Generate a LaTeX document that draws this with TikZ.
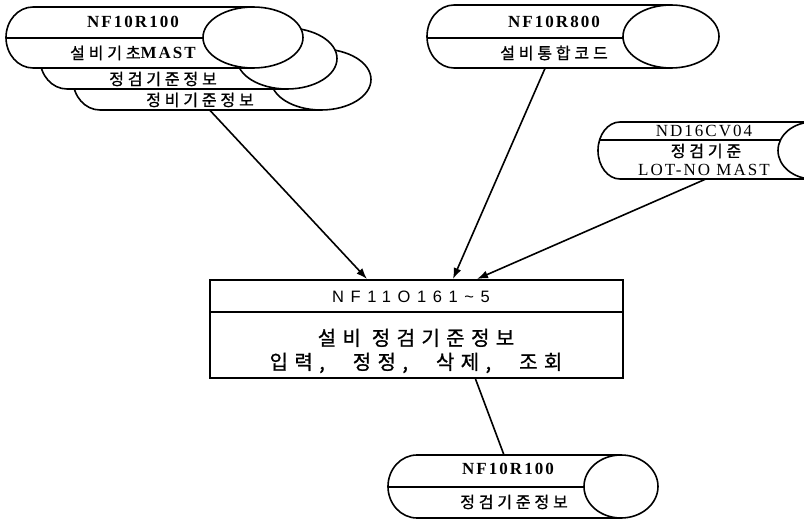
\documentclass[tikz,border=0pt]{standalone}
\usepackage{fontspec}
\setmainfont{Liberation Serif}
\newfontfamily\tagfont[LetterSpace=12]{Liberation Serif}
\newfontfamily\hanfont[LetterSpace=24,FakeBold=1]{Noto Sans CJK KR}
\newfontfamily\bighanfont[LetterSpace=32,FakeBold=1]{Noto Sans CJK KR}
\newfontfamily\boxfont[LetterSpace=40]{Liberation Sans}
\usetikzlibrary{calc,arrows.meta}

% lying drum: [cap] name, left, top, ellipse centre, ellipse x radius, height, divider
\newcommand{\datastore}[8][27]{%
  \fill[white] (#5,#4) -- (#3+#1,#4) arc[start angle=270,end angle=90,x radius=#1,y radius=#7/2] -- (#5,#4+#7) -- cycle;
  \begin{scope}
    \clip (#5,#4) -- (#3+#1,#4) arc[start angle=270,end angle=90,x radius=#1,y radius=#7/2] -- (#5,#4+#7) -- cycle;
    \draw[storeline] (#3,#4+#8) -- (#5,#4+#8);
  \end{scope}
  \draw[storeline] (#5,#4) -- (#3+#1,#4) arc[start angle=270,end angle=90,x radius=#1,y radius=#7/2] -- (#5,#4+#7);
  \draw[storeline, fill=white] (#5,#4+#7/2) ellipse[x radius=#6, y radius=#7/2];
  \node[inner sep=0, minimum width={(#5+#6-#3)*1pt}, minimum height={#7*1pt}, anchor=north west] (#2) at (#3,#4) {};
}

\begin{document}
\begin{tikzpicture}[
  x=1pt, y=-1pt,
  storeline/.style={line width=1.6pt, black},
  tag/.style={inner sep=0, font=\fontsize{17}{19}\selectfont\tagfont},
  boldtag/.style={inner sep=0, font=\fontsize{17}{19}\selectfont\tagfont\bfseries},
  han/.style={inner sep=0, font=\fontsize{16}{18}\selectfont\hanfont},
  boxtitle/.style={inner sep=0, font=\fontsize{16.5}{18}\selectfont\boxfont},
  boxtext/.style={inner sep=0, align=center, font=\fontsize{20}{24}\selectfont\bighanfont},
  arrow/.style={-{Latex[length=11pt,width=8pt]}, line width=1.6pt}
]
\path[use as bounding box, fill=white] (0,0) rectangle (804,519);
\clip (0,0) rectangle (804,519);

% Master files (stacked)
\datastore{maintstd}{73}{49}{321}{50}{61}{30}
\datastore{inspstd}{40}{28}{287}{50}{61}{30}
\datastore{baseinfo}{6}{7}{253}{50}{61}{31}
\node[boldtag] (baseinfoid) at (133,22) {NF10R100};
\node[han] (baseinfoname) at (133,53) {설비기초{\fontsize{17}{19}\selectfont\tagfont\bfseries MAST}};
\node[han] (inspstdname) at (163,79) {정검기준정보};
\node[han] (maintstdname) at (200,100) {정비기준정보};

% Equipment code
\datastore{eqcode}{427}{5}{671}{48}{63}{33}
\node[boldtag] (eqcodeid) at (554,22) {NF10R800};
\node[han] (eqcodename) at (554,53) {설비통합코드};

% LOT-NO master
\datastore[22]{lotmast}{598}{122}{813}{35}{57}{18}
\node[tag] (lotmastid) at (704,131) {ND16CV04};
\node[han] (lotmastname) at (706,151) {정검기준};
\node[tag] (lotmastsub) at (704,170) {LOT-NO MAST};

% Program
\node[draw, line width=2pt, minimum width=413pt, minimum height=98pt, inner sep=0] (prog) at (416.5,329) {};
\draw[line width=1.6pt] ($(prog.north west)+(0,33)$) -- ($(prog.north east)+(0,33)$);
\node[boxtitle] (progid) at (411,297) {NF11O161\textasciitilde5};
\node[boxtext] (progname) at (416,351) {설비 정검기준정보\\입력,\hspace{28pt}정정,\hspace{28pt}삭제,\hspace{28pt}조회};

% Output file
\datastore[29]{inspinfo}{388}{455}{621}{37}{63}{32}
\node[boldtag] (inspinfoid) at (508,469) {NF10R100};
\node[han] (inspinfoname) at (514,502) {정검기준정보};

% Arrows
\draw[arrow] ($(maintstd.south west)+(137,0)$) -- ($(prog.north)+(-49.5,0)$);
\draw[arrow] ($(eqcode.south west)+(118,0)$) -- ($(prog.north)+(36.5,0)$);
\draw[arrow] ($(lotmast.south west)+(107,0)$) -- ($(prog.north)+(60.5,0)$);
\draw[line width=1.6pt] ($(prog.south)+(59,0)$) -- ($(inspinfo.north west)+(116,0)$);

\end{tikzpicture}
\end{document}
